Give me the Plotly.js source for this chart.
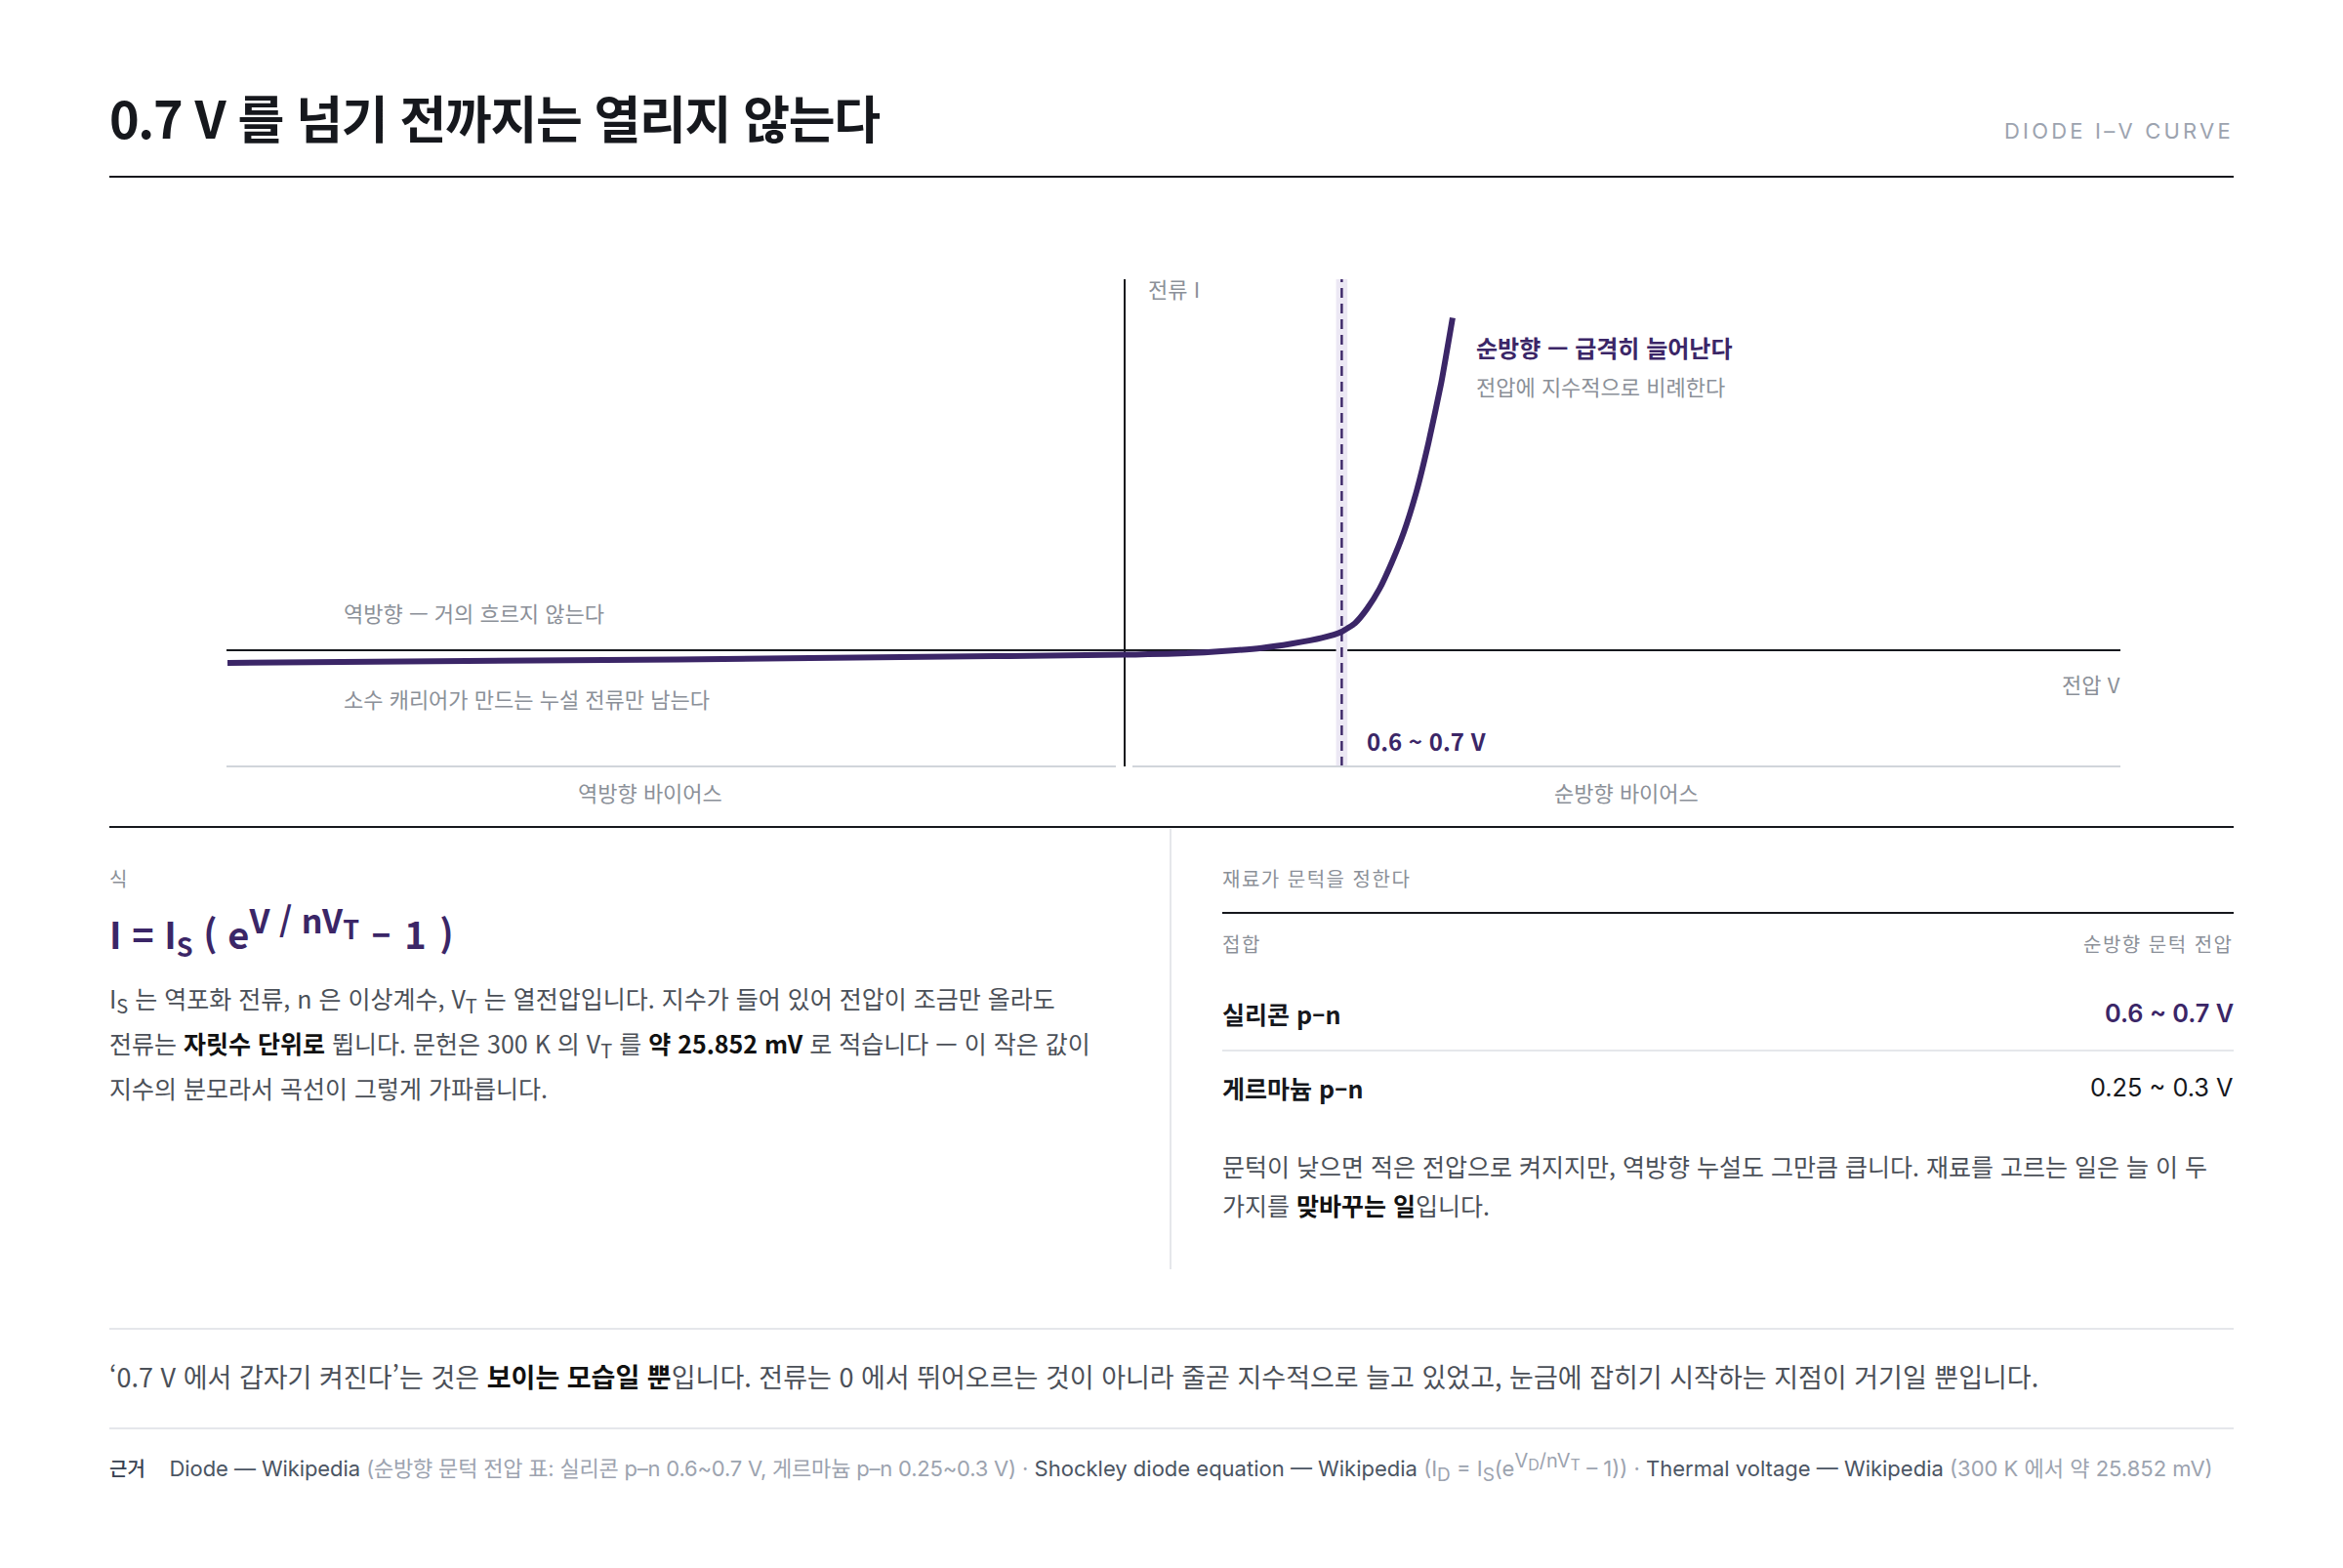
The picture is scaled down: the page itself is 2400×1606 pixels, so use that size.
<!DOCTYPE html>
<html lang="ko">
<head>
<meta charset="utf-8">
<script src="https://cdn.plot.ly/plotly-3.0.1.min.js"></script>
<style>html,body{margin:0;padding:0;background:#fff}#chart{width:2400px;height:1606px}</style>
</head>
<body>
<div id="chart"></div>
<script>
// Curve (voltage, arbitrary current units)
const voltage = [-2.687,-1.34,-0.67,0,0.07,0.187,0.29,0.41,0.5,0.59,0.65,0.69,0.725,0.763,0.8,0.836,0.874,0.91,0.948,0.982];
const current = [-3.8,-2.75,-2.05,-1.35,-1.2,-0.9,-0.3,0.7,2.0,3.7,5.6,8.2,12.4,18.5,26.5,35.6,47.9,62.6,80.6,100.2];
const kneeLow = 0.633, kneeHigh = 0.667, kneeMid = 0.65;
const xRange = [-2.69, 2.982];
const yRange = [-35.0, 111.8];

const fs=(t,s)=>'<span style="font-size:'+s+'px">'+t+'</span>';
const ls=(t,s)=>'<span style="letter-spacing:'+s+'px">'+t+'</span>';
const titleText = ls('0.7 V 를 넘기 전까지는 열리지 않는다',-1.35);
const kicker = 'DIODE I–V CURVE';
const axisY = '전류 I', axisX = '전압 V';
const fwdHead = '순방향 — 급격히 늘어난다', fwdSub = '전압에 지수적으로 비례한다';
const revHead = '역방향 — 거의 흐르지 않는다', revSub = '소수 캐리어가 만드는 누설 전류만 남는다';
const kneeLabel = '0.6 ~ 0.7 V';
const revBias = '역방향 바이어스', fwdBias = '순방향 바이어스';
const eqLabel = '식';
const equation = '<b>I = I<sub>'+fs('S',27)+'</sub> ( e<sup>'+fs('V / nV',34)+'<sub>'+fs('T',27)+'</sub></sup>'+ls(' – 1 )',1.5)+'</b>';
const para = [
 'I<sub>'+fs('S',20)+'</sub> 는 역포화 전류, n 은 이상계수, V<sub>'+fs('T',20)+'</sub> 는 열전압입니다. 지수가 들어 있어 전압이 조금만 올라도',
 '전류는 <b style="color:#111">자릿수 단위로</b> 뜁니다. 문헌은 300 K 의 V<sub>'+fs('T',20)+'</sub> 를 <b style="color:#111">약 25.852 mV</b> 로 적습니다 — 이 작은 값이',
 '지수의 분모라서 곡선이 그렇게 가파릅니다.'];
const tableTitle = '재료가 문턱을 정한다';
const tableHead = ['접합','순방향 문턱 전압'];
const materials = ['실리콘 p–n','게르마늄 p–n'];
const thresholds = ['0.6 ~ 0.7 V','0.25 ~ 0.3 V'];
const note = ['문턱이 낮으면 적은 전압으로 켜지지만, 역방향 누설도 그만큼 큽니다. 재료를 고르는 일은 늘 이 두','가지를 <b style="color:#111">맞바꾸는 일</b>입니다.'];
const summary = '‘0.7 V 에서 갑자기 켜진다’는 것은 <b style="color:#111">보이는 모습일 뿐</b>입니다. 전류는 0 에서 뛰어오르는 것이 아니라 줄곧 지수적으로 늘고 있었고, 눈금에 잡히기 시작하는 지점이 거기일 뿐입니다.';
const SRC = '#4b5563', SRCL = '#9ca3af';
const sources = '<span style="color:#374151;font-size:20px;font-weight:500">근거</span>    <span style="color:'+SRC+';letter-spacing:-0.09px">Diode — Wikipedia</span> '+ls('(순방향 문턱 전압 표: 실리콘 p–n 0.6~0.7 V, 게르마늄 p–n 0.25~0.3 V)',-0.2)+' · <span style="color:'+SRC+'">Shockley diode equation — Wikipedia</span> (I<sub>'+fs('D',19)+'</sub> = I<sub>'+fs('S',19)+'</sub>(e<sup>'+fs('V',20)+'<sub>'+fs('D',16)+'</sub>'+fs('/nV',20)+'<sub>'+fs('T',16)+'</sub></sup> – 1)) · <span style="color:'+SRC+'">Thermal voltage — Wikipedia</span> (300 K 에서 약 25.852 mV)';

const INK='#16181d', PURPLE='#3b2667', GREY='#8b9098', RULE='#e5e7eb', BODY='#4b5058', BAND='#ece8f4';
const KR="'Noto Sans CJK KR'", IN="Inter,'Noto Sans CJK KR'";
const W=2400,H=1606;
const px=x=>x/W, py=y=>1-y/H;

function note1(text,x,y,size,color,opt={}){
  const a=opt.anchor||'left';
  return {text,xref:'paper',yref:'paper',x:px(x+(a==='left'?-1:0)),y:py(y-2.5),xanchor:a,yanchor:'middle',showarrow:false,borderpad:0,
    font:{family:opt.family||KR,size,color,weight:opt.weight||400}};
}
function hline(x0,x1,y,color,w){return {type:'line',xref:'paper',yref:'paper',x0:px(x0),x1:px(x1),y0:py(y),y1:py(y),line:{color,width:w}};}

const annotations=[
 note1(ls(kicker,3.2),2289,136,22,'#9ca3af',{family:IN,anchor:'right'}),
 note1(axisY,1176,298,22,GREY),
 note1(fwdHead,1512,357.5,24,PURPLE,{weight:700}),
 note1(fwdSub,1512,397.5,22,GREY),
 note1(revHead,352,629,22,GREY),
 note1(revSub,352,717,22,GREY),
 note1(axisX,2172.5,702,22,GREY,{anchor:'right'}),
 note1(kneeLabel,1399.5,761,24,PURPLE,{weight:700}),
 note1(revBias,666,813,22,GREY,{anchor:'center'}),
 note1(fwdBias,1666,813,22,GREY,{anchor:'center'}),
 note1(eqLabel,112,902,20,GREY),
 note1(equation,112,954.5,38,PURPLE,{weight:700}),
 note1(para[0],112,1026,25,BODY),
 note1(para[1],112,1072,25,BODY),
 note1(para[2],112,1116,25,BODY),
 note1(ls(tableTitle,1.5),1252,901.5,20,GREY),
 note1(ls(tableHead[0],1.5),1252,969,20,GREY),
 note1(ls(tableHead[1],1.5),2288.5,969,20,GREY,{anchor:'right'}),
 note1(materials[0],1252,1040,25,INK,{weight:700}),
 note1(materials[1],1252,1116,25,INK,{weight:700}),
 note1(thresholds[0],2288.5,1040,25.3,PURPLE,{family:IN,weight:600,anchor:'right'}),
 note1(thresholds[1],2288.5,1116,25.3,INK,{family:IN,anchor:'right'}),
 note1(note[0],1252,1196,25,BODY),
 note1(note[1],1252,1236.5,25,BODY),
 note1(summary,112,1412,27,BODY),
 note1(sources,112,1505,22,SRCL,{family:IN})
];

const shapes=[
 hline(112,2288,181,INK,2),
 hline(112,2288,847,INK,2),
 hline(112,2288,1361,RULE,2),
 hline(112,2288,1463,RULE,2),
 hline(1252,2288,935,INK,2),
 hline(1252,2288,1076,RULE,2),
 {type:'line',xref:'paper',yref:'paper',x0:px(1199),x1:px(1199),y0:py(849),y1:py(1300),line:{color:RULE,width:2}},
 hline(232,1143,785,'#d1d5db',2),
 hline(1160,2172,785,'#d1d5db',2)
];

const bandTrace={x:[kneeLow,kneeLow,kneeHigh,kneeHigh],y:[yRange[0],yRange[1],yRange[1],yRange[0]],type:'scatter',mode:'none',fill:'toself',fillcolor:BAND,hoverinfo:'skip',showlegend:false};
const kneeTrace={x:[kneeMid,kneeMid],y:[yRange[0],yRange[1]],type:'scatter',mode:'lines',line:{color:PURPLE,width:2.4,dash:'10px,6px'},hoverinfo:'skip',showlegend:false};
const curveTrace={x:voltage,y:current,type:'scatter',mode:'lines',line:{color:PURPLE,width:6,shape:'spline',smoothing:0.5},hoverinfo:'skip',showlegend:false,cliponaxis:false};

const layout={
 width:W,height:H,margin:{l:0,r:0,t:0,b:0,pad:0},paper_bgcolor:'#fff',plot_bgcolor:'rgba(0,0,0,0)',showlegend:false,
 title:{text:titleText,xref:'paper',yref:'paper',x:px(112),xanchor:'left',y:py(123.5),yanchor:'middle',pad:{t:0,b:0,l:0,r:0},font:{family:KR,size:52,color:INK,weight:700}},
 xaxis:{domain:[px(232),px(2172)],range:xRange,showgrid:false,showticklabels:false,ticks:'',showline:false,zeroline:true,zerolinecolor:INK,zerolinewidth:2},
 yaxis:{domain:[py(785),py(286)],range:yRange,showgrid:false,showticklabels:false,ticks:'',showline:false,zeroline:true,zerolinecolor:INK,zerolinewidth:2},
 annotations,shapes
};
Plotly.newPlot('chart',[bandTrace,kneeTrace,curveTrace],layout,{displayModeBar:false});
</script>
</body>
</html>
